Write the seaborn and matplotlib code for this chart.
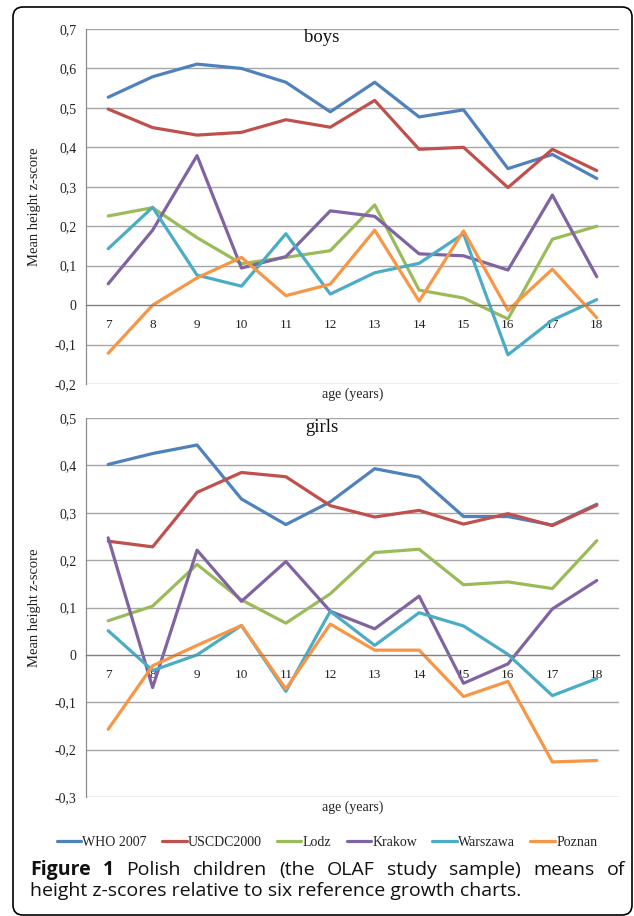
import numpy as np
import pandas as pd
import matplotlib
matplotlib.use("Agg")
import matplotlib.pyplot as plt
import seaborn as sns
from matplotlib.patches import FancyBboxPatch
from matplotlib.ticker import FuncFormatter, FixedLocator

sns.set_theme(style="white")
plt.rcParams['font.family'] = ['Liberation Serif', 'DejaVu Serif']

ages = [7, 8, 9, 10, 11, 12, 13, 14, 15, 16, 17, 18]
series_names = ["WHO 2007", "USCDC2000", "Lodz", "Krakow", "Warszawa", "Poznan"]
colors = ["#4F81BD", "#C0504D", "#9BBB59", "#8064A2", "#4BACC6", "#F79646"]

boys_who = [0.527, 0.579, 0.611, 0.600, 0.565, 0.490, 0.565, 0.477, 0.495, 0.346, 0.382, 0.321]
boys_cdc = [0.497, 0.450, 0.431, 0.438, 0.470, 0.451, 0.519, 0.395, 0.400, 0.298, 0.395, 0.341]
boys_lodz = [0.226, 0.247, 0.171, 0.105, 0.121, 0.138, 0.254, 0.038, 0.018, -0.035, 0.167, 0.200]
boys_krakow = [0.054, 0.190, 0.379, 0.094, 0.123, 0.239, 0.225, 0.130, 0.125, 0.089, 0.279, 0.072]
boys_warszawa = [0.143, 0.248, 0.076, 0.048, 0.181, 0.028, 0.082, 0.106, 0.181, -0.126, -0.038, 0.014]
boys_poznan = [-0.122, 0.0, 0.069, 0.121, 0.024, 0.053, 0.190, 0.010, 0.188, -0.013, 0.091, -0.032]

girls_who = [0.402, 0.425, 0.443, 0.329, 0.275, 0.323, 0.393, 0.375, 0.292, 0.292, 0.274, 0.318]
girls_cdc = [0.240, 0.228, 0.343, 0.385, 0.376, 0.315, 0.291, 0.305, 0.276, 0.298, 0.273, 0.316]
girls_lodz = [0.072, 0.103, 0.191, 0.116, 0.067, 0.129, 0.216, 0.223, 0.148, 0.154, 0.140, 0.241]
girls_krakow = [0.247, -0.069, 0.221, 0.113, 0.197, 0.092, 0.055, 0.124, -0.060, -0.019, 0.097, 0.157]
girls_warszawa = [0.051, -0.033, 0.0, 0.062, -0.077, 0.092, 0.020, 0.089, 0.061, 0.001, -0.086, -0.050]
girls_poznan = [-0.157, -0.023, 0.020, 0.062, -0.072, 0.065, 0.010, 0.010, -0.088, -0.056, -0.226, -0.223]

boys = [boys_who, boys_cdc, boys_lodz, boys_krakow, boys_warszawa, boys_poznan]
girls = [girls_who, girls_cdc, girls_lodz, girls_krakow, girls_warszawa, girls_poznan]

caption_line1 = ["Figure", "1", "Polish", "children", "(the", "OLAF", "study", "sample)", "means", "of"]
caption_bold_words = 2
caption_line2 = "height z-scores relative to six reference growth charts."


def long_df(groups):
    rows = []
    for name, vals in zip(series_names, groups):
        for a, v in zip(ages, vals):
            rows.append({"age": a, "value": v, "series": name})
    return pd.DataFrame(rows)


W, H = 634, 916
fig = plt.figure(figsize=(W / 100, H / 100), dpi=100)
fig.patch.set_facecolor("white")

# background frame
bg = fig.add_axes([0, 0, 1, 1], zorder=-10)
bg.set_xlim(0, W)
bg.set_ylim(H, 0)
bg.axis("off")
bg.add_patch(FancyBboxPatch((13, 7), 619, 908, boxstyle="round,pad=0,rounding_size=10",
                            fill=False, edgecolor="black", linewidth=1.2))


def px_axes(left, right, top, bottom):
    return fig.add_axes([left / W, (H - bottom) / H, (right - left) / W, (bottom - top) / H])


def fmt(v, pos):
    if abs(v) < 1e-9:
        return "0"
    return f"{v:.1f}".replace(".", ",")


def style_axes(ax, ymin, ymax, title, title_y):
    ax.set_xlim(6.5, 18.5)
    ax.set_ylim(ymin, ymax)
    yt = np.round(np.arange(ymin, ymax + 0.001, 0.1), 1)
    ax.yaxis.set_major_locator(FixedLocator(yt))
    ax.yaxis.set_major_formatter(FuncFormatter(fmt))
    for y in yt:
        if abs(y) > 1e-9:
            ax.axhline(y, color="#A6A6A6", lw=1.0, zorder=0)
    ax.spines["top"].set_visible(False)
    ax.spines["right"].set_visible(False)
    ax.spines["left"].set_color("#8C8C8C")
    ax.spines["left"].set_linewidth(0.9)
    ax.spines["bottom"].set_position(("data", 0))
    ax.spines["bottom"].set_color("#808080")
    ax.spines["bottom"].set_linewidth(1.0)
    ax.set_xticks(ages)
    ax.set_xticklabels([str(a) for a in ages])
    ax.set_xticks(np.arange(6.5, 18.6, 1.0), minor=True)
    ax.tick_params(axis="x", which="major", length=0, pad=10, labelsize=9.5, colors="#222222")
    ax.tick_params(axis="x", which="minor", length=4, width=0.8, color="#808080", direction="out")
    ax.tick_params(axis="y", which="major", length=4, width=0.8, color="#8C8C8C", direction="out",
                   pad=3, labelsize=10, labelcolor="#222222")
    ax.set_xlabel("age (years)", fontsize=10, color="#222222")
    ax.xaxis.set_label_coords(0.5, -0.01, transform=ax.transAxes)
    ax.xaxis.label.set_va("top")
    ax.set_ylabel("Mean height z-score", fontsize=10.5, color="#222222")
    ax.yaxis.set_label_coords(-0.084, 0.5)
    ax.text(0.443, title_y, title, transform=ax.transAxes, ha="center", va="center",
            fontsize=13.5, color="#111111")
    ax.set_facecolor("white")
    ax.grid(False)


ax1 = px_axes(86, 619, 29, 384)
sns.lineplot(data=long_df(boys), x="age", y="value", hue="series", hue_order=series_names,
             palette=colors, linewidth=2.3, ax=ax1, legend=False, sort=False)
style_axes(ax1, -0.2, 0.7, "boys", 0.975)

ax2 = px_axes(86, 619, 418, 797)
sns.lineplot(data=long_df(girls), x="age", y="value", hue="series", hue_order=series_names,
             palette=colors, linewidth=2.3, ax=ax2, legend=True, sort=False)
style_axes(ax2, -0.3, 0.5, "girls", 0.975)

handles, labels = ax2.get_legend_handles_labels()
ax2.get_legend().remove()
leg = fig.legend(handles, labels, loc="center", bbox_to_anchor=(327 / W, (H - 842) / H), ncol=6,
                 frameon=False, fontsize=10, handlelength=1.75, handletextpad=0.1,
                 columnspacing=1.1, borderpad=0, borderaxespad=0)
for line in leg.get_lines():
    line.set_linewidth(2.3)
for t in leg.get_texts():
    t.set_color("#222222")

# caption: first line justified between x=30 and x=625
cap_font = ["Open Sans", "DejaVu Sans"]
cap_size = 14
renderer = fig.canvas.get_renderer()
word_objs = []
for i, w in enumerate(caption_line1):
    t = fig.text(0, (H - 870) / H, w, fontsize=cap_size, family=cap_font,
                 fontweight="bold" if i < caption_bold_words else "normal",
                 ha="left", va="center", color="#111111")
    word_objs.append(t)
widths = [t.get_window_extent(renderer).width for t in word_objs]
x_left, x_right = 30, 625
gap = (x_right - x_left - sum(widths)) / (len(widths) - 1)
x = x_left
for t, wdt in zip(word_objs, widths):
    t.set_x(x / W)
    x += wdt + gap
fig.text(x_left / W, (H - 891) / H, caption_line2, fontsize=cap_size, family=cap_font,
         ha="left", va="center", color="#111111")

fig.savefig("out.png", dpi=100, facecolor="white")
